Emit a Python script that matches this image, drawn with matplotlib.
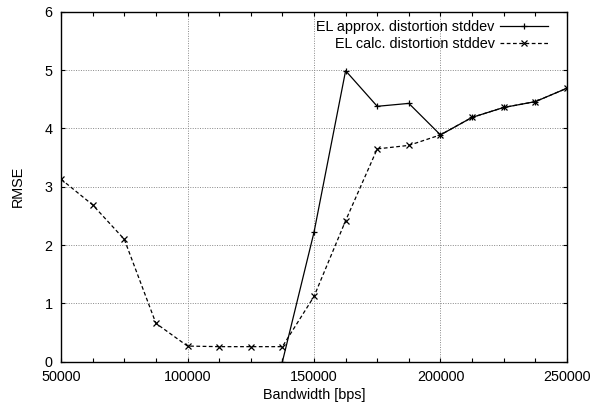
import matplotlib
matplotlib.use("Agg")
import matplotlib.pyplot as plt
from matplotlib.ticker import MultipleLocator

plt.rcParams['font.family'] = ['Liberation Sans', 'DejaVu Sans']

bandwidth = [50000, 62500, 75000, 87500, 100000, 112500, 125000, 137500,
             150000, 162500, 175000, 187500, 200000, 212500, 225000, 237500, 250000]
approx_x = [137500, 150000, 162500, 175000, 187500, 200000, 212500, 225000, 237500, 250000]
approx_rmse = [0.0, 2.22, 4.99, 4.38, 4.43, 3.89, 4.19, 4.36, 4.46, 4.69]
calc_rmse = [3.13, 2.69, 2.10, 0.66, 0.27, 0.26, 0.26, 0.26,
             1.12, 2.42, 3.65, 3.71, 3.89, 4.19, 4.36, 4.46, 4.69]

FS = 10.4

fig = plt.figure(figsize=(5.93, 4.07), dpi=100)
ax = fig.add_axes([0.103, 0.111, 0.853, 0.860])

ax.plot(approx_x, approx_rmse, color='black', lw=0.9, ls='-', marker='+',
        ms=5, mew=0.9, label='EL approx. distortion stddev')
ax.plot(bandwidth, calc_rmse, color='black', lw=0.9, ls=(0, (3, 2)), marker='x',
        ms=4, mew=0.9, label='EL calc. distortion stddev')

ax.set_xlim(50000, 250000)
ax.set_ylim(0, 6)
ax.xaxis.set_major_locator(MultipleLocator(50000))
ax.xaxis.set_minor_locator(MultipleLocator(12500))
ax.yaxis.set_major_locator(MultipleLocator(1))
ax.tick_params(which='both', direction='in', top=True, right=True, labelsize=FS,
               color='black', length=3, width=0.8)
ax.tick_params(axis='x', which='major', pad=6)
ax.tick_params(axis='y', which='major', pad=6)
ax.grid(True, which='major', color='#888888', ls=(0, (1, 1.5)), lw=0.7)
for s in ax.spines.values():
    s.set_linewidth(1.0)

ax.set_xlabel('Bandwidth [bps]', fontsize=FS, labelpad=3)
ax.set_ylabel('RMSE', fontsize=FS, labelpad=14)

ax.legend(loc='upper right', markerfirst=False, frameon=False, fontsize=FS,
          handlelength=3.3, handletextpad=0.4, labelspacing=0.2,
          borderaxespad=0.2, bbox_to_anchor=(0.98, 1.0))

fig.savefig('out.png', dpi=100)
